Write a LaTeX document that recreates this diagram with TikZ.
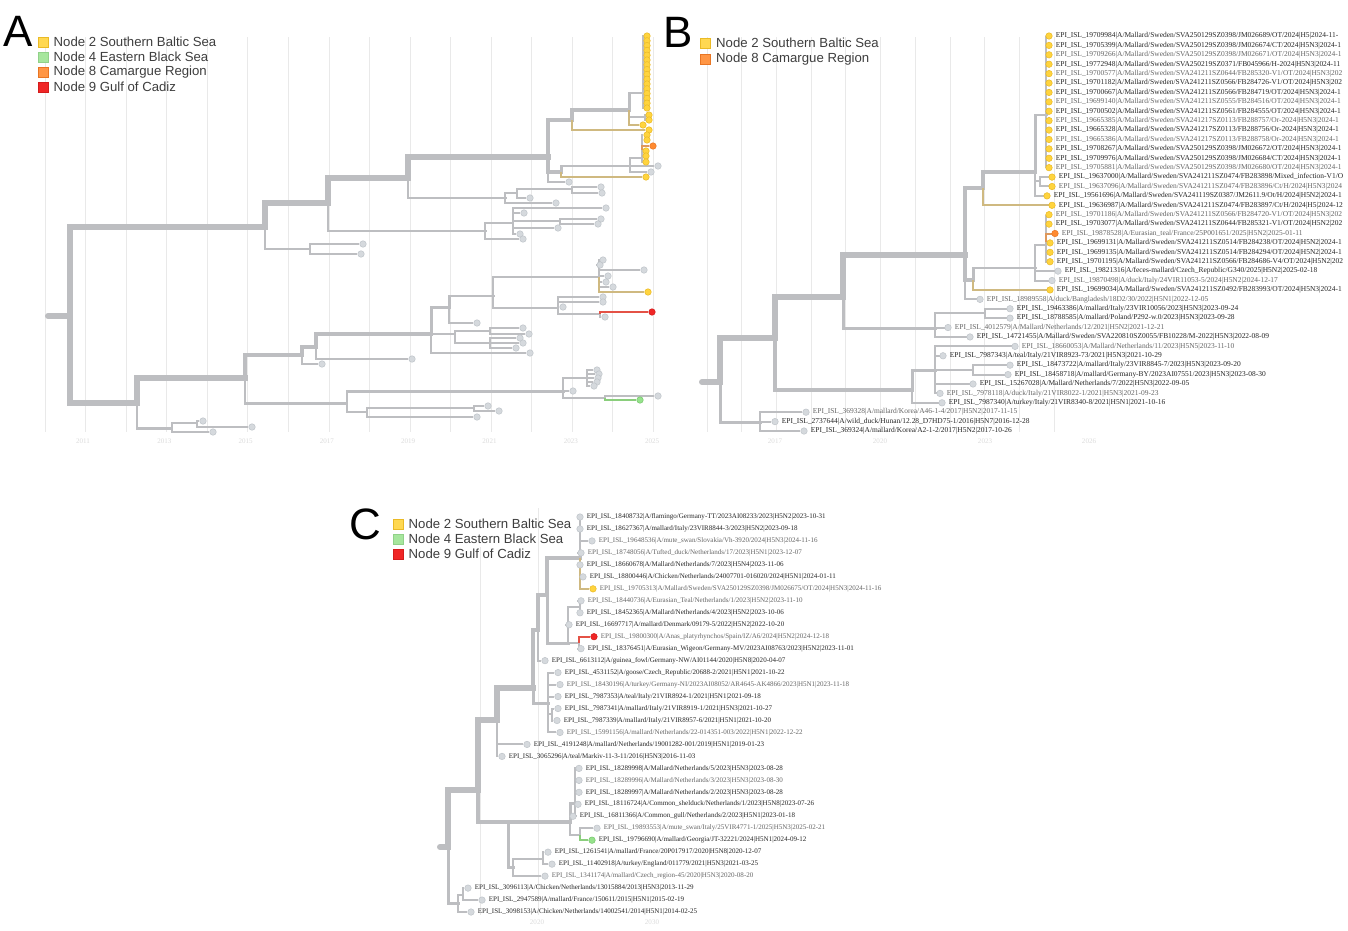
\documentclass[tikz,border=0pt]{standalone}
\usepackage{fontspec}
\setmainfont{Liberation Serif}
\setsansfont{Liberation Sans}
\usetikzlibrary{positioning}

\definecolor{brgrey}{RGB}{189,190,193}
\definecolor{tipgrey}{RGB}{213,217,221}
\definecolor{tipline}{RGB}{192,197,202}
\definecolor{baltic}{RGB}{255,212,62}
\definecolor{balticline}{RGB}{234,186,38}
\definecolor{camargue}{RGB}{255,138,48}
\definecolor{camargueline}{RGB}{232,118,36}
\definecolor{cadiz}{RGB}{240,38,38}
\definecolor{cadizline}{RGB}{212,28,28}
\definecolor{blacksea}{RGB}{150,226,140}
\definecolor{blacksealine}{RGB}{118,198,108}
\definecolor{tanline}{RGB}{207,185,128}
\definecolor{orangeline}{RGB}{222,152,92}
\definecolor{redline}{RGB}{228,82,70}
\definecolor{greenline}{RGB}{138,206,124}
\definecolor{gridgrey}{RGB}{233,233,233}
\definecolor{legendtext}{RGB}{62,62,62}

\pgfdeclarelayer{bg}
\pgfsetlayers{bg,main}

\tikzset{
  every tip/.style={circle, inner sep=0pt, minimum size=0.13cm, fill=tipgrey, draw=tipline, line width=0.3pt},
  tip y/.style={fill=baltic, draw=balticline},
  tip yt/.style={tip y},
  tip o/.style={fill=camargue, draw=camargueline},
  tip r/.style={fill=cadiz, draw=cadizline},
  tip gr/.style={fill=blacksea, draw=blacksealine},
  trunk/.style={draw=brgrey, line width=3.4pt, line cap=rect},
  limb/.style={draw=brgrey, line width=2.3pt, line cap=rect},
  branch/.style={draw=brgrey, line width=1.7pt, line cap=rect},
  twig/.style={draw=brgrey, line width=1.15pt},
  stem yt/.style={draw=tanline},
  stem o/.style={draw=orangeline},
  stem r/.style={draw=redline},
  stem gr/.style={draw=greenline},
  lbl/.style={anchor=west, inner sep=0pt, text=black!85, font=\fontsize{4}{4}\selectfont},
  lbl b/.style={font=\fontsize{4.25}{4.25}\selectfont},
  lbl s/.style={text=black!60},
  swatch/.style={rectangle, minimum size=0.2cm, inner sep=0pt, line width=0.4pt},
  swatch y/.style={fill=baltic!90!white, draw=balticline},
  swatch gr/.style={fill=blacksea!85!white, draw=blacksealine!80!white},
  swatch o/.style={fill=camargue!90!white, draw=camargueline},
  swatch r/.style={fill=cadiz, draw=cadizline},
  legend text/.style={anchor=west, inner sep=0pt, text=legendtext, font=\sffamily\fontsize{7.5}{9}\selectfont},
  panel/.style={inner sep=0pt, font=\sffamily\fontsize{25}{25}\selectfont},
  year/.style={inner sep=0pt, text=black!14, font=\fontsize{4}{4}\selectfont},
  grid line/.style={draw=gridgrey, line width=0.4pt},
}

\begin{document}
\begin{tikzpicture}[x=0.02cm, y=-0.02cm]

\useasboundingbox (0,0) rectangle (1348,930);
\begin{pgfonlayer}{bg}
  \fill[white] (0,0) rectangle (1348,930);
  \foreach \g in {0,...,15}
    \draw[grid line] ({45+\g*40.56},37) -- ({45+\g*40.56},432);
  \foreach \g in {0,...,10}
    \draw[grid line] ({707+\g*34.7},37) -- ({707+\g*34.7},432);
  \draw[grid line] (480,547) -- (480,915);
  \draw[grid line] (538,508) -- (538,915);
\end{pgfonlayer}

%% ---------------- A ----------------
\node[panel] (panel-a) at (18,31) {A};
\foreach \txt/\c [count=\i] in {Node 2 Southern Baltic Sea/y, Node 4 Eastern Black Sea/gr,
    Node 8 Camargue Region/o, Node 9 Gulf of Cadiz/r} {
  \node[swatch, swatch \c/.try] (a-k\i) at (43,{27+15*\i}) {};
  \node[legend text, right=0.1cm of a-k\i] (a-e\i) {\txt};
}
\foreach \yr [count=\n from 0] in {2011,2013,...,2025}
  \node[year] (a-yr\n) at ({83+\n*81.3},441) {\yr};

\foreach \n/\x/\y in {0/48/316, 1/70/316, 2/265/227, 3/328/203, 4/408/178, 5/548/157,
    6/572/120, 7/629/110, 8/643/93, 9/645/117, 10/561/172, 11/630/166, 12/642/158,
    13/505/198, 14/517/193, 15/572/189, 16/485/231, 17/513/223, 18/560/221, 19/310/249,
    20/137/403, 21/245/378, 22/302/355, 23/316/347, 24/431/334, 25/449/307, 26/493/296,
    27/599/277, 28/558/308, 29/600/314, 30/455/334, 31/490/331, 32/490/343, 33/347/403,
    34/563/391, 35/587/378, 36/605/398, 37/367/412, 38/474/408, 39/172/428, 40/197/423}
  \coordinate (a-n\n) at (\x,\y);

\begin{pgfonlayer}{bg}
  \draw[trunk, line cap=round] (a-n0) -- (a-n1);
  \foreach \p/\c/\s in {1/2/trunk, 2/3/trunk, 3/4/trunk, 4/5/trunk, 5/6/limb, 6/7/limb,
      7/8/branch, 7/9/twig, 5/10/limb, 10/11/branch, 11/12/twig, 4/13/branch, 13/14/twig,
      14/15/twig, 3/16/branch, 16/17/twig, 17/18/twig, 2/19/twig, 1/20/trunk, 20/21/trunk,
      21/22/limb, 22/23/limb, 23/24/limb, 24/25/branch, 25/26/branch, 26/27/twig,
      26/28/twig, 28/29/twig, 24/30/twig, 30/31/twig, 30/32/twig, 21/33/branch,
      33/34/branch, 34/35/twig, 34/36/twig, 33/37/twig, 37/38/twig, 20/39/branch, 39/40/twig}
    \draw[\s] (a-n\p) |- (a-n\c);
\end{pgfonlayer}

% yellow column
\foreach \n in {0,...,15} {
  \node[every tip/.try, tip y] (a-c\n) at (647,{36+\n*4.8}) {};
  \begin{pgfonlayer}{bg}\draw[twig] (a-n8) |- (a-c\n);\end{pgfonlayer}
}
\foreach \p/\x/\y/\m [count=\i] in {9/649/115/y, 9/649/120/y, 7/643/125/yt, 6/649/130/yt,
    12/647/135/y, 12/647/140/y, 12/653/146/o, 12/646/151/y, 12/646/156/y, 12/646/162/y,
    11/658/166/g, 11/651/172/g, 10/646/177/yt, 5/569/182/g, 15/601/187/g, 15/602/193/g,
    14/530/198/g, 13/556/203/g, 17/606/208/g, 17/524/213/g, 18/601/219/g, 18/598/224/g,
    17/558/228/g, 17/520/234/g, 16/523/239/g, 19/363/244/g, 19/361/254/g,
    27/603/260/g, 27/600/265/g, 27/644/270/g, 27/608/276/g, 27/606/282/g, 27/613/287/g,
    27/648/292/yt, 28/603/297/g, 28/603/302/g, 28/563/307/g, 29/652/312/r, 29/605/317/g,
    25/477/323/g, 31/523/328/g, 31/529/334/g, 32/520/338/g, 32/523/343/g, 32/516/348/g,
    24/530/353/g, 23/412/359/g, 22/322/364/g, 35/597/370/g, 35/599/374/g, 35/598/378/g,
    35/597/382/g, 35/594/386/g, 34/573/391/g, 36/658/396/g, 36/640/400/gr,
    38/488/406/g, 38/499/411/g, 37/477/417/g, 40/203/421/g, 40/252/427/g, 39/213/432/g} {
  \node[every tip/.try, tip \m/.try] (a-t\i) at (\x,\y) {};
  \begin{pgfonlayer}{bg}\draw[twig, stem \m/.try] (a-n\p) |- (a-t\i);\end{pgfonlayer}
}

%% ---------------- B ----------------
\node[panel] (panel-b) at (678,32) {B};
\foreach \txt/\c [count=\i] in {Node 2 Southern Baltic Sea/y, Node 8 Camargue Region/o} {
  \node[swatch, swatch \c/.try] (b-k\i) at (705,{27+16*\i}) {};
  \node[legend text, right=0.11cm of b-k\i] (b-e\i) {\txt};
}
\foreach \yr/\x in {2017/775, 2020/880, 2023/985, 2026/1089}
  \node[year] (b-yr\yr) at (\x,441) {\yr};

\foreach \n/\x/\y in {0/702/382, 1/720/382, 2/775/338, 3/843/297, 4/965/255, 5/983/188,
    6/1035/172, 7/1046/115, 8/973/280, 9/1035/268, 10/1046/245, 11/935/328, 12/985/313,
    13/1040/181, 14/912/390, 15/935/370, 16/973/370, 20/760/422}
  \coordinate (b-n\n) at (\x,\y);

\begin{pgfonlayer}{bg}
  \draw[trunk, line cap=round] (b-n0) -- (b-n1);
  \foreach \p/\c/\s in {1/2/trunk, 1/20/branch, 2/3/trunk, 2/14/limb, 3/4/trunk,
      3/11/branch, 4/5/limb, 4/8/limb, 5/6/limb, 6/7/branch, 6/13/twig, 8/9/branch,
      9/10/twig, 11/12/twig, 14/15/branch, 15/16/twig}
    \draw[\s] (b-n\p) |- (b-n\c);
\end{pgfonlayer}

% labels of the Swedish sequences run off the right edge, as in the figure
\foreach \i/\x/\p/\m/\f/\l in {
  1/1049/7/y/n/{EPI\_ISL\_19709984|A/Mallard/Sweden/SVA250129SZ0398/JM026689/OT/2024|H5|2024-11-},
  2/1049/7/y/n/{EPI\_ISL\_19705399|A/Mallard/Sweden/SVA250129SZ0398/JM026674/CT/2024|H5N3|2024-1},
  3/1049/7/y/s/{EPI\_ISL\_19709266|A/Mallard/Sweden/SVA250129SZ0398/JM026671/OT/2024|H5N3|2024-1},
  4/1049/7/y/n/{EPI\_ISL\_19772948|A/Mallard/Sweden/SVA250219SZ0371/FB045966/H-2024|H5N3|2024-11},
  5/1049/7/y/s/{EPI\_ISL\_19700577|A/Mallard/Sweden/SVA241211SZ0644/FB285320-V1/OT/2024|H5N3|202},
  6/1049/7/y/n/{EPI\_ISL\_19701182|A/Mallard/Sweden/SVA241211SZ0566/FB284726-V1/OT/2024|H5N3|202},
  7/1049/7/y/n/{EPI\_ISL\_19700667|A/Mallard/Sweden/SVA241211SZ0566/FB284719/OT/2024|H5N3|2024-1},
  8/1049/7/y/s/{EPI\_ISL\_19699140|A/Mallard/Sweden/SVA241211SZ0555/FB284516/OT/2024|H5N3|2024-1},
  9/1049/7/y/n/{EPI\_ISL\_19700502|A/Mallard/Sweden/SVA241211SZ0561/FB284555/OT/2024|H5N3|2024-1},
  10/1049/7/y/s/{EPI\_ISL\_19665385|A/Mallard/Sweden/SVA241217SZ0113/FB288757/Or-2024|H5N3|2024-1},
  11/1049/7/y/n/{EPI\_ISL\_19665328|A/Mallard/Sweden/SVA241217SZ0113/FB288756/Or-2024|H5N3|2024-1},
  12/1049/7/y/s/{EPI\_ISL\_19665386|A/Mallard/Sweden/SVA241217SZ0113/FB288758/Or-2024|H5N3|2024-1},
  13/1049/7/y/n/{EPI\_ISL\_19708267|A/Mallard/Sweden/SVA250129SZ0398/JM026672/OT/2024|H5N3|2024-1},
  14/1049/7/y/n/{EPI\_ISL\_19709976|A/Mallard/Sweden/SVA250129SZ0398/JM026684/CT/2024|H5N3|2024-1},
  15/1049/7/y/s/{EPI\_ISL\_19705881|A/Mallard/Sweden/SVA250129SZ0398/JM026680/OT/2024|H5N3|2024-1},
  16/1052/13/y/n/{EPI\_ISL\_19637000|A/Mallard/Sweden/SVA241211SZ0474/FB283898/Mixed\_infection-V1/O},
  17/1052/13/y/s/{EPI\_ISL\_19637096|A/Mallard/Sweden/SVA241211SZ0474/FB283896/Ct/H/2024|H5N3|2024},
  18/1047/6/y/n/{EPI\_ISL\_19561696|A/Mallard/Sweden/SVA241119SZ0387/JM2611.9/Ot/H/2024|H5N2|2024-1},
  19/1052/5/yt/n/{EPI\_ISL\_19636987|A/Mallard/Sweden/SVA241211SZ0474/FB283897/Ct/H/2024|H5|2024-12},
  20/1049/10/y/s/{EPI\_ISL\_19701186|A/Mallard/Sweden/SVA241211SZ0566/FB284720-V1/OT/2024|H5N3|202},
  21/1049/10/y/n/{EPI\_ISL\_19703077|A/Mallard/Sweden/SVA241211SZ0644/FB285321-V1/OT/2024|H5N2|202},
  22/1055/10/o/s/{EPI\_ISL\_19878528|A/Eurasian\_teal/France/25P001651/2025|H5N2|2025-01-11},
  23/1050/10/y/n/{EPI\_ISL\_19699131|A/Mallard/Sweden/SVA241211SZ0514/FB284238/OT/2024|H5N2|2024-1},
  24/1050/10/y/n/{EPI\_ISL\_19699135|A/Mallard/Sweden/SVA241211SZ0514/FB284294/OT/2024|H5N2|2024-1},
  25/1050/10/y/n/{EPI\_ISL\_19701195|A/Mallard/Sweden/SVA241211SZ0566/FB284686-V4/OT/2024|H5N2|202},
  26/1058/9/g/n/{EPI\_ISL\_19821316|A/feces-mallard/Czech\_Republic/G340/2025|H5N2|2025-02-18},
  27/1052/9/g/s/{EPI\_ISL\_19870498|A/duck/Italy/24VIR11053-5/2024|H5N2|2024-12-17},
  28/1050/8/yt/n/{EPI\_ISL\_19699034|A/Mallard/Sweden/SVA241211SZ0492/FB283993/OT/2024|H5N3|2024-1},
  29/980/4/g/s/{EPI\_ISL\_18989558|A/duck/Bangladesh/18D2/30/2022|H5N1|2022-12-05},
  30/1010/12/g/n/{EPI\_ISL\_19463386|A/mallard/Italy/23VIR10056/2023|H5N3|2023-09-24},
  31/1010/12/g/n/{EPI\_ISL\_18788585|A/mallard/Poland/P292-w.0/2023|H5N3|2023-09-28},
  32/948/11/g/s/{EPI\_ISL\_4012579|A/Mallard/Netherlands/12/2021|H5N2|2021-12-21},
  33/970/11/g/n/{EPI\_ISL\_14721455|A/Mallard/Sweden/SVA220810SZ0055/FB10228/M-2022|H5N3|2022-08-09},
  34/1015/15/g/s/{EPI\_ISL\_18660053|A/Mallard/Netherlands/11/2023|H5N5|2023-11-10},
  35/943/15/g/n/{EPI\_ISL\_7987343|A/teal/Italy/21VIR8923-73/2021|H5N3|2021-10-29},
  36/1010/16/g/n/{EPI\_ISL\_18473722|A/mallard/Italy/23VIR8845-7/2023|H5N3|2023-09-20},
  37/1008/16/g/n/{EPI\_ISL\_18458718|A/mallard/Germany-BY/2023AI07551/2023|H5N3|2023-08-30},
  38/973/15/g/n/{EPI\_ISL\_15267028|A/Mallard/Netherlands/7/2022|H5N3|2022-09-05},
  39/940/15/g/s/{EPI\_ISL\_7978118|A/duck/Italy/21VIR8022-1/2021|H5N3|2021-09-23},
  40/942/14/g/n/{EPI\_ISL\_7987340|A/turkey/Italy/21VIR8340-8/2021|H5N1|2021-10-16},
  41/806/20/g/s/{EPI\_ISL\_369328|A/mallard/Korea/A46-1-4/2017|H5N2|2017-11-15},
  42/775/20/g/n/{EPI\_ISL\_2737644|A/wild\_duck/Hunan/12.28\_D7HD75-1/2016|H5N7|2016-12-28},
  43/804/20/g/n/{EPI\_ISL\_369324|A/mallard/Korea/A2-1-2/2017|H5N2|2017-10-26}} {
  \node[every tip/.try, tip \m/.try] (b-t\i) at (\x,{36+(\i-1)*9.405}) {};
  \node[lbl, lbl b, lbl \f/.try] (b-l\i) at ([xshift=0.06cm]b-t\i.east) {\l};
  \begin{pgfonlayer}{bg}\draw[twig, stem \m/.try] (b-n\p) |- (b-t\i);\end{pgfonlayer}
}

%% ---------------- C ----------------
\node[panel] (panel-c) at (365,524) {C};
\foreach \txt/\c [count=\i] in {Node 2 Southern Baltic Sea/y, Node 4 Eastern Black Sea/gr,
    Node 9 Gulf of Cadiz/r} {
  \node[swatch, swatch \c/.try] (c-k\i) at (398,{509+15*\i}) {};
  \node[legend text, right=0.1cm of c-k\i] (c-e\i) {\txt};
}
\foreach \yr/\x in {2020/537, 2030/652}
  \node[year] (c-yr\yr) at (\x,922) {\yr};

\foreach \n/\x/\y in {0/440/847, 1/448/847, 2/478/790, 3/497/720, 4/533/688, 5/538/630,
    6/547/595, 7/580/558, 8/568/643, 9/580/607, 10/579/643, 12/548/703, 13/552/714,
    20/508/822, 21/570/822, 22/575/803, 23/580/835, 25/513/867, 26/543/859,
    30/458/903, 31/463/895}
  \coordinate (c-n\n) at (\x,\y);

\begin{pgfonlayer}{bg}
  \draw[trunk, line cap=round] (c-n0) -- (c-n1);
  \foreach \p/\c/\s in {1/2/trunk, 1/30/branch, 2/3/trunk, 2/20/limb, 3/4/trunk,
      4/5/limb, 4/12/branch, 5/6/limb, 6/7/limb, 6/8/branch, 8/9/twig, 8/10/twig,
      12/13/twig, 20/21/limb, 20/25/branch, 21/22/branch, 21/23/twig, 25/26/twig, 30/31/twig}
    \draw[\s] (c-n\p) |- (c-n\c);
\end{pgfonlayer}

\foreach \i/\x/\p/\m/\f/\l in {
  1/580/7/g/n/{EPI\_ISL\_18408732|A/flamingo/Germany-TT/2023AI08233/2023|H5N2|2023-10-31},
  2/580/7/g/n/{EPI\_ISL\_18627367|A/mallard/Italy/23VIR8844-3/2023|H5N2|2023-09-18},
  3/592/7/g/s/{EPI\_ISL\_19648536|A/mute\_swan/Slovakia/Vh-3920/2024|H5N3|2024-11-16},
  4/581/7/g/s/{EPI\_ISL\_18748056|A/Tufted\_duck/Netherlands/17/2023|H5N1|2023-12-07},
  5/580/7/g/n/{EPI\_ISL\_18660678|A/Mallard/Netherlands/7/2023|H5N4|2023-11-06},
  6/583/7/g/n/{EPI\_ISL\_18800446|A/Chicken/Netherlands/24007701-016020/2024|H5N1|2024-01-11},
  7/593/7/yt/s/{EPI\_ISL\_19705313|A/Mallard/Sweden/SVA250129SZ0398/JM026675/OT/2024|H5N3|2024-11-16},
  8/581/9/g/s/{EPI\_ISL\_18440736|A/Eurasian\_Teal/Netherlands/1/2023|H5N2|2023-11-10},
  9/580/9/g/n/{EPI\_ISL\_18452365|A/Mallard/Netherlands/4/2023|H5N2|2023-10-06},
  10/569/8/g/n/{EPI\_ISL\_16697717|A/mallard/Denmark/09179-5/2022|H5N2|2022-10-20},
  11/594/10/r/s/{EPI\_ISL\_19800300|A/Anas\_platyrhynchos/Spain/IZ/A6/2024|H5N2|2024-12-18},
  12/581/10/g/n/{EPI\_ISL\_18376451|A/Eurasian\_Wigeon/Germany-MV/2023AI08763/2023|H5N2|2023-11-01},
  13/545/5/g/n/{EPI\_ISL\_6613112|A/guinea\_fowl/Germany-NW/AI01144/2020|H5N8|2020-04-07},
  14/558/12/g/n/{EPI\_ISL\_4531152|A/goose/Czech\_Republic/20688-2/2021|H5N1|2021-10-22},
  15/560/12/g/s/{EPI\_ISL\_18430196|A/turkey/Germany-NI/2023AI08052/AR4645-AK4866/2023|H5N1|2023-11-18},
  16/558/12/g/n/{EPI\_ISL\_7987353|A/teal/Italy/21VIR8924-1/2021|H5N1|2021-09-18},
  17/558/13/g/n/{EPI\_ISL\_7987341|A/mallard/Italy/21VIR8919-1/2021|H5N3|2021-10-27},
  18/557/13/g/n/{EPI\_ISL\_7987339|A/mallard/Italy/21VIR8957-6/2021|H5N1|2021-10-20},
  19/560/12/g/s/{EPI\_ISL\_15991156|A/mallard/Netherlands/22-014351-003/2022|H5N1|2022-12-22},
  20/527/3/g/n/{EPI\_ISL\_4191248|A/mallard/Netherlands/19001282-001/2019|H5N1|2019-01-23},
  21/502/3/g/n/{EPI\_ISL\_3065296|A/teal/Markiv-11-3-11/2016|H5N3|2016-11-03},
  22/579/22/g/n/{EPI\_ISL\_18289998|A/Mallard/Netherlands/5/2023|H5N3|2023-08-28},
  23/579/22/g/s/{EPI\_ISL\_18289996|A/Mallard/Netherlands/3/2023|H5N3|2023-08-30},
  24/579/22/g/n/{EPI\_ISL\_18289997|A/Mallard/Netherlands/2/2023|H5N3|2023-08-28},
  25/578/22/g/n/{EPI\_ISL\_18116724|A/Common\_shelduck/Netherlands/1/2023|H5N8|2023-07-26},
  26/573/22/g/n/{EPI\_ISL\_16811366|A/Common\_gull/Netherlands/2/2023|H5N1|2023-01-18},
  27/597/23/g/s/{EPI\_ISL\_19893553|A/mute\_swan/Italy/25VIR4771-1/2025|H5N3|2025-02-21},
  28/592/23/gr/n/{EPI\_ISL\_19796690|A/mallard/Georgia/JT-32221/2024|H5N1|2024-09-12},
  29/548/26/g/n/{EPI\_ISL\_1261541|A/mallard/France/20P017917/2020|H5N8|2020-12-07},
  30/552/26/g/n/{EPI\_ISL\_11402918|A/turkey/England/011779/2021|H5N3|2021-03-25},
  31/545/25/g/s/{EPI\_ISL\_1341174|A/mallard/Czech\_region-45/2020|H5N3|2020-08-20},
  32/468/31/g/n/{EPI\_ISL\_3096113|A/Chicken/Netherlands/13015884/2013|H5N3|2013-11-29},
  33/482/31/g/n/{EPI\_ISL\_2947589|A/mallard/France/150611/2015|H5N1|2015-02-19},
  34/471/30/g/n/{EPI\_ISL\_3098153|A/Chicken/Netherlands/14002541/2014|H5N1|2014-02-25}} {
  \node[every tip/.try, tip \m/.try] (c-t\i) at (\x,{517+(\i-1)*11.97}) {};
  \node[lbl, lbl \f/.try] (c-l\i) at ([xshift=0.06cm]c-t\i.east) {\l};
  \begin{pgfonlayer}{bg}\draw[twig, stem \m/.try] (c-n\p) |- (c-t\i);\end{pgfonlayer}
}

\end{tikzpicture}
\end{document}
